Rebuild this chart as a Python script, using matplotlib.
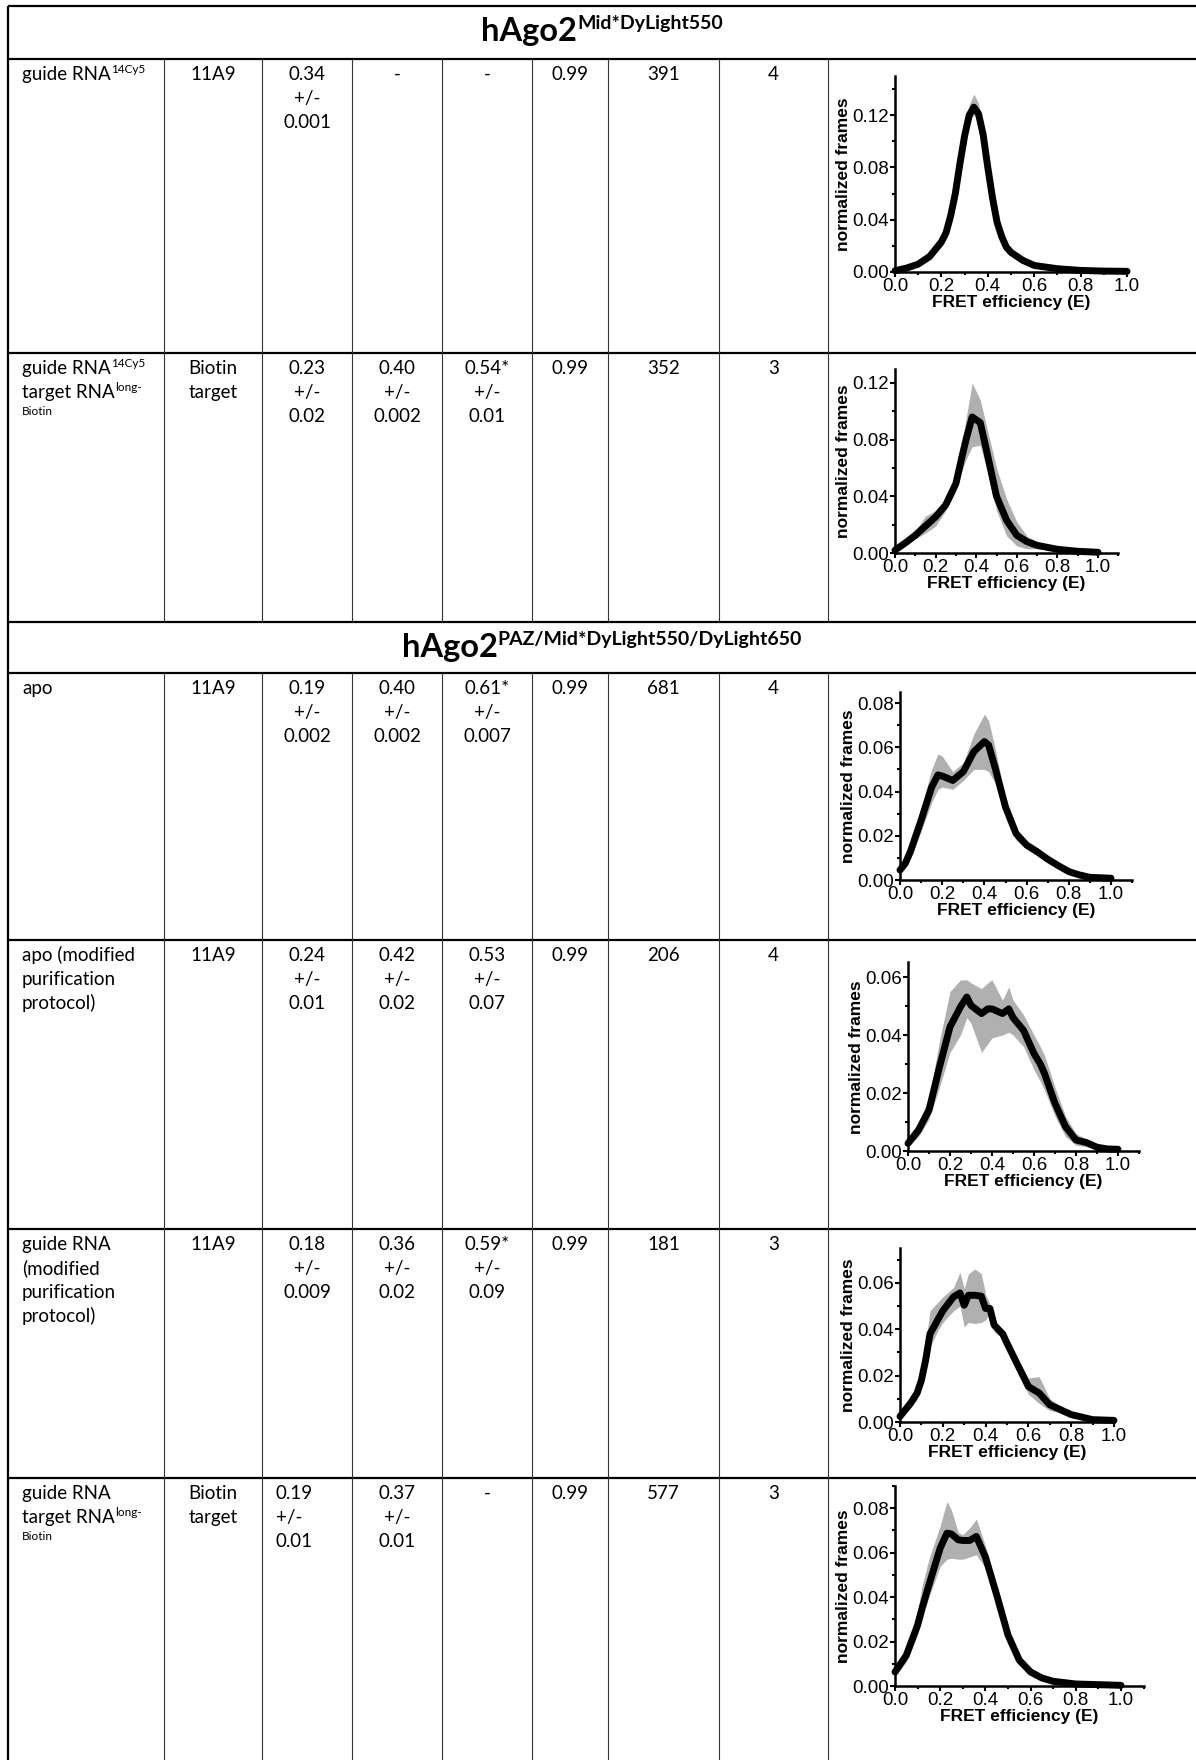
import matplotlib
matplotlib.use('Agg')
import matplotlib.pyplot as plt
from matplotlib.ticker import MultipleLocator, FormatStrFormatter

plt.rcParams['font.family'] = ['Liberation Sans', 'DejaVu Sans']
TF = 'Lato'          # table font (stand-in for Calibri)
FS = 13.5

# ---- table content ----
titles = [("hAgo2", "Mid*DyLight550"),
          ("hAgo2", "PAZ/Mid*DyLight550/DyLight650")]

# condition column: list of (text, superscript) per line
conditions = [
    [("guide RNA", "14Cy5")],
    [("guide RNA", "14Cy5"), ("target RNA", "long-"), ("", "Biotin")],
    [("apo", "")],
    [("apo (modified", ""), ("purification", ""), ("protocol)", "")],
    [("guide RNA", ""), ("(modified", ""), ("purification", ""), ("protocol)", "")],
    [("guide RNA", ""), ("target RNA", "long-"), ("", "Biotin")],
]
antibody = ["11A9", "Biotin\ntarget", "11A9", "11A9", "11A9", "Biotin\ntarget"]
e_low = ["0.34\n+/-\n0.001", "0.23\n+/-\n0.02", "0.19\n+/-\n0.002",
         "0.24\n+/-\n0.01", "0.18\n+/-\n0.009", "0.19\n+/-\n0.01"]
e_mid = ["-", "0.40\n+/-\n0.002", "0.40\n+/-\n0.002",
         "0.42\n+/-\n0.02", "0.36\n+/-\n0.02", "0.37\n+/-\n0.01"]
e_high = ["-", "0.54*\n+/-\n0.01", "0.61*\n+/-\n0.007",
          "0.53\n+/-\n0.07", "0.59*\n+/-\n0.09", "-"]
r_sq = ["0.99", "0.99", "0.99", "0.99", "0.99", "0.99"]
n_mol = ["391", "352", "681", "206", "181", "577"]
n_exp = ["4", "3", "4", "4", "3", "3"]

# ---- histogram curves (x, mean, lower, upper) ----
x1 = [0.00, 0.05, 0.10, 0.15, 0.20, 0.22, 0.24, 0.26, 0.28, 0.30, 0.32, 0.34, 0.36, 0.38, 0.40, 0.42,
      0.44, 0.46, 0.48, 0.50, 0.55, 0.60, 0.70, 0.80, 0.90, 1.00]
y1 = [0.001, 0.003, 0.006, 0.012, 0.023, 0.030, 0.043, 0.060, 0.083, 0.104, 0.120, 0.126, 0.121, 0.105,
      0.080, 0.057, 0.038, 0.027, 0.019, 0.015, 0.009, 0.005, 0.0025, 0.0012, 0.0007, 0.0005]
lo1 = [0.000, 0.002, 0.004, 0.009, 0.019, 0.026, 0.039, 0.056, 0.079, 0.100, 0.115, 0.120, 0.116, 0.101,
       0.077, 0.055, 0.036, 0.025, 0.017, 0.013, 0.008, 0.004, 0.002, 0.001, 0.0005, 0.0003]
hi1 = [0.002, 0.004, 0.008, 0.016, 0.028, 0.035, 0.048, 0.065, 0.088, 0.110, 0.128, 0.136, 0.129, 0.110,
       0.084, 0.060, 0.041, 0.029, 0.021, 0.017, 0.010, 0.006, 0.003, 0.0015, 0.0009, 0.0007]

x2 = [0.00, 0.05, 0.10, 0.15, 0.20, 0.25, 0.30, 0.33, 0.35, 0.38, 0.42, 0.45, 0.50, 0.55, 0.60, 0.65,
      0.70, 0.80, 0.90, 1.00]
y2 = [0.002, 0.007, 0.0125, 0.019, 0.0255, 0.034, 0.049, 0.068, 0.080, 0.096, 0.092, 0.073, 0.040, 0.023,
      0.0125, 0.008, 0.0054, 0.0026, 0.0012, 0.0005]
lo2 = [0.001, 0.005, 0.010, 0.014, 0.019, 0.030, 0.044, 0.058, 0.066, 0.075, 0.076, 0.060, 0.030, 0.012,
       0.005, 0.003, 0.003, 0.0015, 0.0008, 0.0003]
hi2 = [0.003, 0.009, 0.016, 0.026, 0.030, 0.037, 0.052, 0.078, 0.095, 0.120, 0.108, 0.090, 0.060, 0.038,
       0.022, 0.012, 0.008, 0.004, 0.002, 0.0008]

x3 = [0.00, 0.025, 0.05, 0.10, 0.15, 0.18, 0.20, 0.25, 0.30, 0.35, 0.40, 0.42, 0.45, 0.50, 0.55, 0.60,
      0.65, 0.70, 0.75, 0.80, 0.85, 0.90, 1.00]
y3 = [0.0045, 0.0075, 0.013, 0.027, 0.042, 0.0475, 0.047, 0.045, 0.049, 0.058, 0.0626, 0.061, 0.051, 0.033,
      0.021, 0.0158, 0.0128, 0.0094, 0.0065, 0.0038, 0.0023, 0.0012, 0.0008]
lo3 = [0.003, 0.006, 0.010, 0.022, 0.035, 0.041, 0.042, 0.041, 0.045, 0.050, 0.050, 0.049, 0.044, 0.029,
       0.018, 0.014, 0.011, 0.0085, 0.0055, 0.0032, 0.0018, 0.0009, 0.0005]
hi3 = [0.006, 0.010, 0.016, 0.032, 0.050, 0.057, 0.056, 0.049, 0.053, 0.066, 0.075, 0.072, 0.060, 0.037,
       0.023, 0.017, 0.014, 0.010, 0.007, 0.0045, 0.0028, 0.0016, 0.001]

x4 = [0.00, 0.05, 0.10, 0.15, 0.20, 0.25, 0.28, 0.30, 0.35, 0.38, 0.40, 0.45, 0.48, 0.50, 0.55, 0.60,
      0.63, 0.65, 0.70, 0.75, 0.80, 0.85, 0.90, 0.95, 1.00]
y4 = [0.0026, 0.0072, 0.0141, 0.029, 0.0428, 0.0497, 0.0531, 0.0502, 0.0474, 0.049, 0.049, 0.0474, 0.049,
      0.046, 0.0416, 0.0336, 0.030, 0.0267, 0.0164, 0.0084, 0.0038, 0.0029, 0.0013, 0.0007, 0.0006]
lo4 = [0.0015, 0.005, 0.011, 0.022, 0.034, 0.040, 0.046, 0.044, 0.034, 0.037, 0.039, 0.040, 0.041,
       0.040, 0.036, 0.028, 0.024, 0.021, 0.012, 0.005, 0.002, 0.0015, 0.0007, 0.0004, 0.0003]
hi4 = [0.004, 0.010, 0.018, 0.038, 0.055, 0.059, 0.059, 0.058, 0.056, 0.058, 0.059, 0.052, 0.0566,
       0.052, 0.047, 0.040, 0.036, 0.033, 0.022, 0.012, 0.006, 0.004, 0.002, 0.001, 0.0008]

x5 = [0.00, 0.05, 0.08, 0.10, 0.12, 0.14, 0.18, 0.20, 0.25, 0.28, 0.30, 0.32, 0.35, 0.38, 0.40, 0.42,
      0.44, 0.48, 0.50, 0.55, 0.60, 0.65, 0.70, 0.75, 0.80, 0.85, 0.90, 1.00]
y5 = [0.0024, 0.0082, 0.0125, 0.018, 0.0268, 0.038, 0.0447, 0.048, 0.054, 0.0557, 0.0504, 0.0547, 0.0547,
      0.0543, 0.049, 0.049, 0.0418, 0.038, 0.034, 0.0246, 0.0153, 0.0125, 0.0074, 0.0053, 0.0032, 0.0021,
      0.001, 0.0007]
lo5 = [0.0015, 0.006, 0.010, 0.015, 0.022, 0.0325, 0.040, 0.043, 0.048, 0.050, 0.041, 0.043, 0.0425,
       0.043, 0.044, 0.047, 0.039, 0.036, 0.032, 0.022, 0.012, 0.008, 0.005, 0.004, 0.002, 0.0012,
       0.0006, 0.0004]
hi5 = [0.003, 0.010, 0.015, 0.022, 0.034, 0.048, 0.052, 0.054, 0.058, 0.0647, 0.0575, 0.064, 0.066,
       0.064, 0.055, 0.051, 0.044, 0.040, 0.036, 0.027, 0.019, 0.0196, 0.010, 0.007, 0.0045, 0.003,
       0.0015, 0.001]

x6 = [0.00, 0.05, 0.10, 0.12, 0.15, 0.20, 0.23, 0.25, 0.28, 0.30, 0.33, 0.36, 0.40, 0.45, 0.50, 0.55,
      0.60, 0.65, 0.70, 0.80, 0.90, 1.00]
y6 = [0.0063, 0.0138, 0.0274, 0.035, 0.0454, 0.062, 0.0687, 0.0683, 0.0657, 0.0654, 0.0654, 0.0672,
      0.058, 0.0409, 0.0229, 0.0116, 0.0063, 0.0036, 0.0021, 0.0009, 0.0006, 0.0003]
lo6 = [0.004, 0.011, 0.023, 0.030, 0.040, 0.0537, 0.057, 0.0574, 0.057, 0.057, 0.058, 0.059, 0.053,
       0.037, 0.020, 0.0095, 0.005, 0.0028, 0.0015, 0.0006, 0.0004, 0.0002]
hi6 = [0.008, 0.016, 0.034, 0.045, 0.057, 0.072, 0.083, 0.079, 0.069, 0.068, 0.071, 0.075, 0.063,
       0.044, 0.025, 0.013, 0.0075, 0.0045, 0.0027, 0.0012, 0.0008, 0.0005]

curves = [(x1, y1, lo1, hi1), (x2, y2, lo2, hi2), (x3, y3, lo3, hi3),
          (x4, y4, lo4, hi4), (x5, y5, lo5, hi5), (x6, y6, lo6, hi6)]

# ---- layout (pixels) ----
W, H = 1196, 1760
col_x = [8, 164, 262, 352, 442, 532, 608, 719, 828, W]
title_rows = [(6, 59), (622, 673)]
data_rows = [(59, 353), (353, 622), (673, 940), (940, 1229), (1229, 1478), (1478, 1760)]
# x0, y0 of axis origin, px per unit x, px per unit y, xmax, ymax, y major, y minor
panels = [(895, 272, 232, 1308, 1.0, 0.15, 0.04, 0.02),
          (895, 553, 203, 1417, 1.1, 0.13, 0.04, 0.02),
          (900, 880, 211, 2212, 1.1, 0.085, 0.02, 0.01),
          (908, 1151, 210, 2900, 1.1, 0.065, 0.02, 0.01),
          (900, 1422, 214, 2317, 1.0, 0.075, 0.02, 0.01),
          (895, 1686, 226, 2225, 1.1, 0.09, 0.02, 0.01)]

fig = plt.figure(figsize=(W / 100, H / 100), dpi=100)
ax = fig.add_axes([0, 0, 1, 1])
ax.set_xlim(0, W)
ax.set_ylim(H, 0)
ax.axis('off')
renderer = fig.canvas.get_renderer()


def sup_text(x, y, base, sup, size, ssize, weight='normal', ha='left', rise=7):
    t1 = ax.text(x, y, base, va='baseline', ha='left', fontsize=size,
                 family=TF, fontweight=weight)
    t2 = ax.text(x, y - rise, sup, va='baseline', ha='left', fontsize=ssize,
                 family=TF, fontweight=weight)
    w1 = t1.get_window_extent(renderer).width if base else 0
    w2 = t2.get_window_extent(renderer).width
    x0 = x - (w1 + w2) / 2 if ha == 'center' else x
    t1.set_x(x0)
    t2.set_x(x0 + w1)


# grid lines
ax.hlines([6, 59, 353, 622, 673, 940, 1229, 1478], 8, W, color='black', lw=1.6)
ax.vlines(8, 6, H, color='black', lw=1.6)
for top, bot in [(59, 622), (673, H)]:
    ax.vlines(col_x[1:9], top, bot, color='#333333', lw=0.8)

# titles
for (base, sup), (top, bot) in zip(titles, title_rows):
    sup_text((8 + W) / 2, top + 35, base, sup, 23.5, 14, weight='bold', ha='center', rise=12)

LS = 24
for i, (top, bot) in enumerate(data_rows):
    for j, (base, sup) in enumerate(conditions[i]):
        yb = top + 21 + LS * j
        if sup:
            sup_text(22, yb, base, sup, FS, 8.5, rise=7)
        else:
            ax.text(22, yb, base, va='baseline', ha='left', fontsize=FS, family=TF)
    cols = [antibody[i], e_low[i], e_mid[i], e_high[i], r_sq[i], n_mol[i], n_exp[i]]
    for c, s in enumerate(cols):
        xl, xr = col_x[c + 1], col_x[c + 2]
        left_align = (i == 5 and c == 1)
        for j, line in enumerate(s.split('\n')):
            if left_align:
                ax.text(xl + 14, top + 21 + LS * j, line, va='baseline', ha='left',
                        fontsize=FS, family=TF)
            else:
                ax.text((xl + xr) / 2, top + 21 + LS * j, line, va='baseline', ha='center',
                        fontsize=FS, family=TF)

# histogram panels
for (x, y, lo, hi), (x0, y0, pxx, pxy, xmax, ymax, ymaj, ymin) in zip(curves, panels):
    pax = fig.add_axes([x0 / W, 1 - y0 / H, xmax * pxx / W, ymax * pxy / H])
    pax.patch.set_alpha(0)
    pax.fill_between(x, lo, hi, color='#b0b0b0', lw=0)
    pax.plot(x, y, color='black', lw=5, solid_joinstyle='round', solid_capstyle='round', clip_on=False)
    pax.set_xlim(0, xmax)
    pax.set_ylim(0, ymax)
    for s in ['top', 'right']:
        pax.spines[s].set_visible(False)
    for s in ['left', 'bottom']:
        pax.spines[s].set_linewidth(1.8)
    pax.xaxis.set_major_locator(MultipleLocator(0.2))
    pax.xaxis.set_minor_locator(MultipleLocator(0.1))
    pax.xaxis.set_major_formatter(FormatStrFormatter('%.1f'))
    pax.yaxis.set_major_locator(MultipleLocator(ymaj))
    pax.yaxis.set_minor_locator(MultipleLocator(ymin))
    pax.yaxis.set_major_formatter(FormatStrFormatter('%.2f'))
    pax.tick_params(which='major', direction='out', length=3.5, width=1.5, pad=1, labelsize=13.5)
    pax.tick_params(which='minor', direction='out', length=2.5, width=1.5)
    pax.set_xlabel('FRET efficiency (E)', fontweight='bold', fontsize=12.5, labelpad=0)
    pax.set_ylabel('normalized frames', fontweight='bold', fontsize=12.5, labelpad=1)

fig.savefig('out.png', dpi=100, facecolor='white')
